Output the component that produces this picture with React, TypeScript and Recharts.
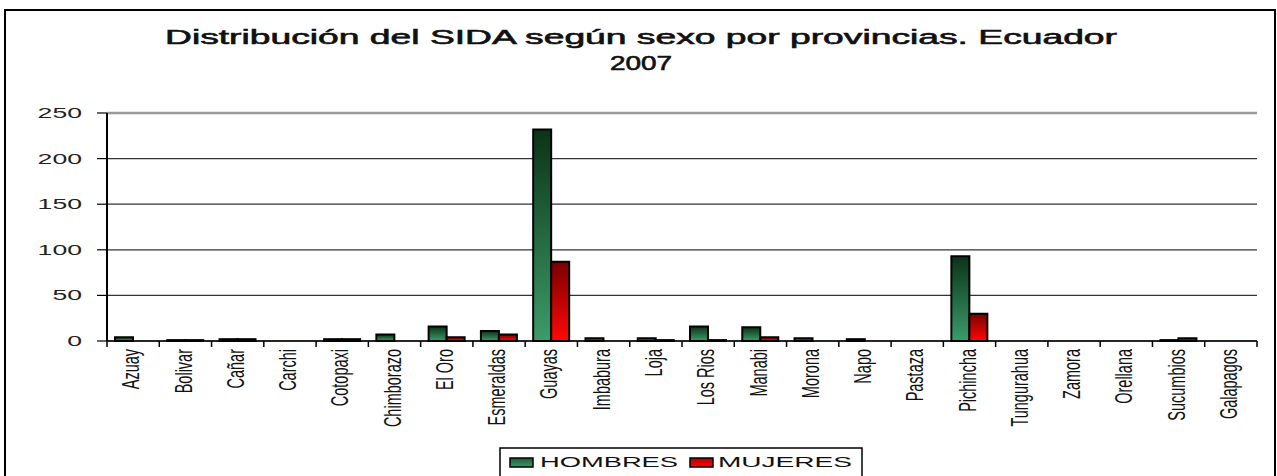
import { BarChart, Bar, XAxis, YAxis, CartesianGrid, ReferenceLine } from 'recharts'

const PROVINCIAS = [
  'Azuay', 'Bolivar', 'Cañar', 'Carchi', 'Cotopaxi', 'Chimborazo', 'El Oro', 'Esmeraldas',
  'Guayas', 'Imbabura', 'Loja', 'Los Rios', 'Manabi', 'Morona', 'Napo', 'Pastaza',
  'Pichincha', 'Tungurahua', 'Zamora', 'Orellana', 'Sucumbios', 'Galapagos',
]
const HOMBRES = [4, 1, 2, 0, 2, 7, 16, 11, 232, 3, 3, 16, 15, 3, 2, 0, 93, 0, 0, 0, 1, 0]
const MUJERES = [0, 1, 2, 0, 2, 0, 4, 7, 87, 0, 1, 1, 4, 0, 0, 0, 30, 0, 0, 0, 3, 0]
const Y_TICKS = [0, 50, 100, 150, 200, 250]

const TITLE = 'Distribución del SIDA según sexo por provincias. Ecuador'
const SUBTITLE = '2007'

const data = PROVINCIAS.map((name, i) => ({ name, hombres: HOMBRES[i], mujeres: MUJERES[i] }))

const FONT = '"Liberation Sans", Arial, sans-serif'

function XTick(props: any) {
  const { x, y, payload, index, visibleTicksCount, width } = props
  const half = payload?.offset ? payload.offset : width / visibleTicksCount / 2
  const last = index === visibleTicksCount - 1
  return (
    <g>
      <line x1={x - half} x2={x - half} y1={y} y2={y + 6} stroke="#000" strokeWidth={1.5} />
      {last && <line x1={x + half} x2={x + half} y1={y} y2={y + 6} stroke="#000" strokeWidth={1.5} />}
      <text
        transform={`translate(${x - 2}, ${y + 8}) scale(1.6, 1) rotate(-90)`}
        textAnchor="end"
        dy="0.35em"
        fontSize={14.5}
        fontFamily={FONT}
        fill="#111"
      >
        {payload.value}
      </text>
    </g>
  )
}

function YTick(props: any) {
  const { x, y, payload } = props
  return (
    <text
      transform={`translate(${x}, ${y}) scale(1.9, 1)`}
      textAnchor="end"
      dy="0.36em"
      fontSize={14}
      fontFamily={FONT}
      fill="#222"
    >
      {payload.value}
    </text>
  )
}

export default function App() {
  return (
    <div style={{ position: 'absolute', left: 0, top: 0, width: 1277, height: 476, background: '#fff', overflow: 'hidden' }}>
      <BarChart
        width={1277}
        height={476}
        data={data}
        margin={{ top: 113, right: 20, left: 0, bottom: 0 }}
        barCategoryGap={8}
        barGap={0}
      >
        <defs>
          <linearGradient id="gH" x1="0" y1="0" x2="0" y2="1">
            <stop offset="0%" stopColor="#0b3317" />
            <stop offset="100%" stopColor="#3c9c6b" />
          </linearGradient>
          <linearGradient id="gM" x1="0" y1="0" x2="0" y2="1">
            <stop offset="0%" stopColor="#7a0000" />
            <stop offset="100%" stopColor="#ff0808" />
          </linearGradient>
        </defs>
        <CartesianGrid vertical={false} stroke="#333" strokeWidth={1.2} />
        <ReferenceLine y={250} stroke="#9a9a9a" strokeWidth={2.5} />
        <XAxis
          dataKey="name"
          interval={0}
          height={135}
          tickSize={0}
          tickMargin={0}
          tickLine={false}
          axisLine={{ stroke: '#000', strokeWidth: 1.5 }}
          tick={<XTick />}
        />
        <YAxis
          width={107}
          domain={[0, 250]}
          ticks={Y_TICKS}
          interval={0}
          tickSize={10}
          tickMargin={15}
          axisLine={{ stroke: '#000', strokeWidth: 2 }}
          tickLine={{ stroke: '#000', strokeWidth: 1.2 }}
          tick={<YTick />}
        />
        <YAxis
          yAxisId="right"
          orientation="right"
          width={0}
          tick={false}
          tickLine={false}
          axisLine={{ stroke: '#9a9a9a', strokeWidth: 3 }}
        />
        <Bar dataKey="hombres" name="HOMBRES" fill="url(#gH)" stroke="#000" strokeWidth={2} isAnimationActive={false} />
        <Bar dataKey="mujeres" name="MUJERES" fill="url(#gM)" stroke="#000" strokeWidth={2} isAnimationActive={false} />
      </BarChart>
      <svg width={1277} height={476} style={{ position: 'absolute', left: 0, top: 0, pointerEvents: 'none' }}>
        <rect x={5} y={10} width={1270} height={480} fill="none" stroke="#000" strokeWidth={2} />
        <text x={165} y={44} fontSize={20} fontFamily={FONT} fill="#111" stroke="#111" strokeWidth={0.6} textLength={952} lengthAdjust="spacingAndGlyphs">
          {TITLE}
        </text>
        <text x={641} y={70} fontSize={20} fontFamily={FONT} fill="#111" stroke="#111" strokeWidth={0.6} textAnchor="middle" textLength={62} lengthAdjust="spacingAndGlyphs">
          {SUBTITLE}
        </text>
        <rect x={500} y={448} width={362} height={32} fill="#fff" stroke="#000" strokeWidth={1.5} />
        <rect x={510} y={458} width={23} height={9} fill="url(#lgH)" stroke="#000" strokeWidth={1.5} />
        <text x={540} y={467} fontSize={15} fontFamily={FONT} fill="#111" textLength={138} lengthAdjust="spacingAndGlyphs">HOMBRES</text>
        <rect x={690} y={458} width={23} height={9} fill="url(#lgM)" stroke="#000" strokeWidth={1.5} />
        <text x={718} y={467} fontSize={15} fontFamily={FONT} fill="#111" textLength={134} lengthAdjust="spacingAndGlyphs">MUJERES</text>
        <defs>
          <linearGradient id="lgH" x1="0" y1="0" x2="0" y2="1">
            <stop offset="0%" stopColor="#1d5a35" />
            <stop offset="100%" stopColor="#3c9c6b" />
          </linearGradient>
          <linearGradient id="lgM" x1="0" y1="0" x2="0" y2="1">
            <stop offset="0%" stopColor="#b00000" />
            <stop offset="100%" stopColor="#ff0808" />
          </linearGradient>
        </defs>
      </svg>
    </div>
  )
}
